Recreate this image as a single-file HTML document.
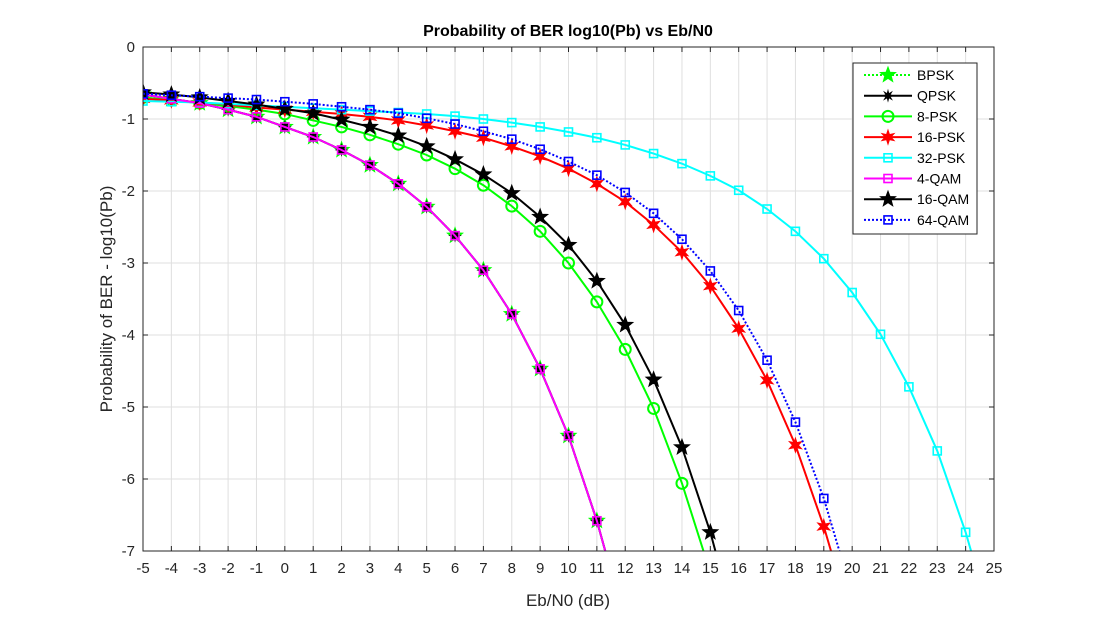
<!DOCTYPE html><html><head><meta charset="utf-8"><style>
body{margin:0;background:#fff;width:1099px;height:624px;overflow:hidden;font-family:"Liberation Sans",Arial,sans-serif}
</style></head><body>
<svg id="c" width="1099" height="624" font-family="Liberation Sans, Arial, sans-serif"></svg>
<script>
const xs=[-5,-4,-3,-2,-1,0,1,2,3,4,5,6,7,8,9,10,11,12,13,14,15,16,17,18,19,20,21,22,23,24,25];
const bpsk=[-0.66,-0.72,-0.78,-0.87,-0.97,-1.11,-1.25,-1.43,-1.64,-1.90,-2.22,-2.62,-3.10,-3.71,-4.47,-5.40,-6.58,-8.0];
const qpsk=bpsk.slice();
const qam4=bpsk.slice();
const psk8=[-0.70,-0.74,-0.78,-0.82,-0.87,-0.93,-1.02,-1.11,-1.22,-1.35,-1.50,-1.69,-1.92,-2.21,-2.56,-3.00,-3.54,-4.20,-5.02,-6.06,-7.3];
const psk16=[-0.72,-0.74,-0.77,-0.80,-0.84,-0.87,-0.90,-0.93,-0.97,-1.02,-1.09,-1.17,-1.26,-1.38,-1.52,-1.69,-1.90,-2.15,-2.47,-2.85,-3.32,-3.91,-4.63,-5.53,-6.66,-8.0];
const psk32=[-0.75,-0.76,-0.77,-0.79,-0.81,-0.83,-0.85,-0.87,-0.89,-0.91,-0.93,-0.96,-1.00,-1.05,-1.11,-1.18,-1.26,-1.36,-1.48,-1.62,-1.79,-1.99,-2.25,-2.56,-2.94,-3.41,-3.99,-4.72,-5.61,-6.74,-8.1];
const qam16=[-0.63,-0.66,-0.70,-0.75,-0.80,-0.86,-0.92,-1.01,-1.11,-1.23,-1.38,-1.56,-1.77,-2.03,-2.36,-2.75,-3.25,-3.86,-4.62,-5.56,-6.74,-8.2];
const qam64=[-0.65,-0.67,-0.69,-0.71,-0.73,-0.76,-0.79,-0.83,-0.87,-0.92,-0.99,-1.07,-1.17,-1.28,-1.42,-1.59,-1.78,-2.02,-2.31,-2.67,-3.11,-3.66,-4.35,-5.21,-6.27,-7.6];
const xTicks=[-5,-4,-3,-2,-1,0,1,2,3,4,5,6,7,8,9,10,11,12,13,14,15,16,17,18,19,20,21,22,23,24,25];
const yTicks=[0,-1,-2,-3,-4,-5,-6,-7];
const L=143,R=994,T=47,B=551;
const X=v=>L+(v+5)/30*(R-L), Y=v=>T+(0-v)/7*(B-T);
const svg=document.getElementById('c');const NS='http://www.w3.org/2000/svg';
function mk(t,a,p){const e=document.createElementNS(NS,t);for(const k in a)e.setAttribute(k,a[k]);(p||svg).appendChild(e);return e;}
mk('rect',{x:L,y:T,width:R-L,height:B-T,fill:'#fff'});
const grid=mk('g',{});


xTicks.forEach(t=>{const x=X(t);mk('line',{x1:x,x2:x,y1:T,y2:B,stroke:'#dfdfdf'},grid);mk('line',{x1:x,x2:x,y1:B,y2:B-5,stroke:'#262626'});mk('line',{x1:x,x2:x,y1:T,y2:T+5,stroke:'#262626'});
const tx=mk('text',{x:x,y:B+22,'text-anchor':'middle','font-size':15,fill:'#262626'});tx.textContent=t;

});
yTicks.forEach(t=>{const y=Y(t);mk('line',{x1:L,x2:R,y1:y,y2:y,stroke:'#dfdfdf'},grid);mk('line',{x1:L,x2:L+5,y1:y,y2:y,stroke:'#262626'});mk('line',{x1:R,x2:R-5,y1:y,y2:y,stroke:'#262626'});
const tx=mk('text',{x:L-8,y:y+5,'text-anchor':'end','font-size':15,fill:'#262626'});tx.textContent=t;

});
mk('clipPath',{id:'cp'});mk('rect',{x:L,y:T,width:R-L,height:B-T},svg.lastChild);
function star(x,y,r,n){let p='';for(let i=0;i<2*n;i++){const rr=i%2?r*0.42:r,a=-Math.PI/2+i*Math.PI/n;p+=(x+rr*Math.cos(a))+','+(y+rr*Math.sin(a))+' ';}return p;}
function marker(g,m,x,y,c){
 if(m==='o')mk('circle',{cx:x,cy:y,r:5.5,fill:'none',stroke:c,'stroke-width':2},g);
 else if(m==='s')mk('rect',{x:x-4,y:y-4,width:8,height:8,fill:'none',stroke:c,'stroke-width':1.6},g);
 else if(m==='p')mk('polygon',{points:star(x,y,8,5),fill:c,stroke:c},g);
 else if(m==='h')mk('polygon',{points:star(x,y,7,6),fill:c,stroke:c},g);
 else if(m==='a')mk('polygon',{points:star(x,y,5,8),fill:c,stroke:c},g);
}
const series=[
 ['BPSK',bpsk,'#00ff00','dot','p'],['QPSK',qpsk,'#000','','a'],['8-PSK',psk8,'#00ff00','','o'],['16-PSK',psk16,'#ff0000','','h'],
 ['32-PSK',psk32,'#00ffff','','s'],['4-QAM',qam4,'#ff00ff','','s'],['16-QAM',qam16,'#000','','p'],['64-QAM',qam64,'#0000ff','dot','s']];
series.forEach(([nm,d,c,ls,m])=>{
 const g=mk('g',{'clip-path':'url(#cp)'});
 
 
 mk('polyline',{points:d.map((v,i)=>X(xs[i])+','+Y(v)).join(' '),fill:'none',stroke:c,'stroke-width':2,'stroke-dasharray':ls?'2,2':'none'},g);
 d.forEach((v,i)=>marker(g,m,X(xs[i]),Y(v),c));
});
mk('rect',{x:L,y:T,width:R-L,height:B-T,fill:'none',stroke:'#262626'});
const lg=mk('g',{});


mk('rect',{x:853,y:63,width:124,height:171,fill:'#fff',stroke:'#262626'},lg);
series.forEach(([nm,d,c,ls,m],i)=>{const y=75+i*20.7;
 const e=mk('g',{},lg);
 
 
 mk('line',{x1:864,x2:912,y1:y,y2:y,stroke:c,'stroke-width':2,'stroke-dasharray':ls?'2,2':'none'},e);
 marker(e,m,888,y,c);
 const t=mk('text',{x:917,y:y+5,'font-size':14,fill:'#000'},e);t.textContent=nm;});
const ti=mk('text',{x:568,y:36,'text-anchor':'middle','font-size':16,'font-weight':'bold',fill:'#000'});ti.textContent='Probability of BER log10(Pb) vs Eb/N0';


const xl=mk('text',{x:568,y:606,'text-anchor':'middle','font-size':17,fill:'#262626'});xl.textContent='Eb/N0 (dB)';


const yl=mk('text',{x:112,y:299,'text-anchor':'middle','font-size':17,fill:'#262626',transform:'rotate(-90 112 299)'});yl.textContent='Probability of BER  - log10(Pb)';


</script></body></html>
